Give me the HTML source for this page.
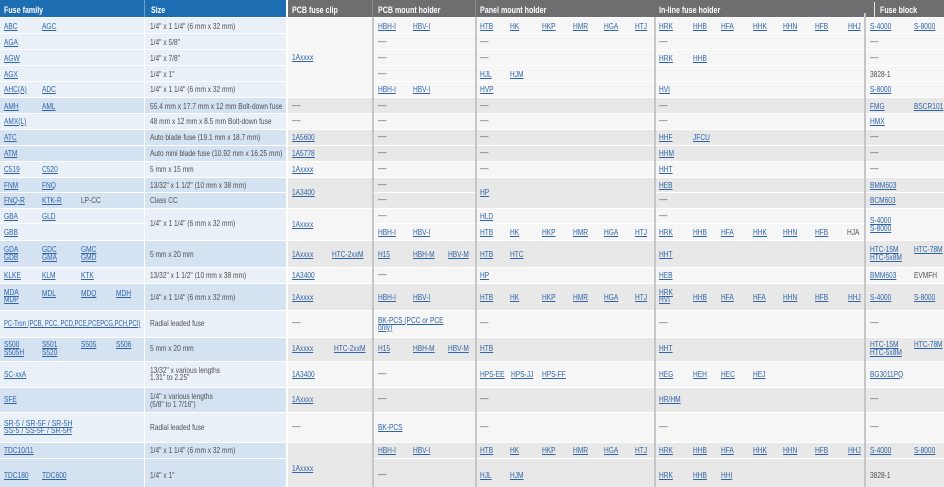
<!DOCTYPE html>
<html>
<head>
<meta charset="utf-8">
<style>
html,body{margin:0;padding:0}
body{width:944px;height:487px;overflow:hidden;position:relative;background:#fff;font-family:"Liberation Sans",Arial,sans-serif}
div{position:absolute}
.L{left:0;width:944px;background:linear-gradient(to right,#e9f0f8 286px,#fff 286px,#fff 288px,#f6f6f6 288px)}
.D{left:0;width:944px;background:linear-gradient(to right,#d4e2f2 286px,#fff 286px,#fff 288px,#e8e8e8 288px)}
.v{top:17px;height:470px;width:2px;background:#c6c6c6}
.t{position:absolute;font-size:8.5px;line-height:9px;white-space:nowrap;color:#505050;transform:scaleX(.775);transform-origin:0 0;font-style:normal}
.a{color:#2f64a6;text-decoration:underline}
.d{transform:none;color:#505050}
.h{font-weight:bold;color:#fff;font-size:9px;transform:scaleX(.79)}
</style>
</head>
<body>
<!-- header -->
<div style="left:0;top:0;width:286px;height:17px;background:#1d6db3"></div>
<div style="left:288px;top:0;width:656px;height:17px;background:#6d6e70"></div>
<div style="left:144px;top:0;width:1px;height:17px;background:rgba(255,255,255,.35)"></div>
<div style="left:372px;top:0;width:1px;height:17px;background:#8a8b8d"></div>
<div style="left:475px;top:0;width:1px;height:17px;background:#8a8b8d"></div>
<div style="left:874px;top:2px;width:1px;height:15px;background:#e6e6e6"></div>

<!-- row bands -->
<div class="L" style="top:18px;height:15px"></div>
<div class="L" style="top:34px;height:15px"></div>
<div class="L" style="top:50px;height:15px"></div>
<div class="L" style="top:66px;height:15px"></div>
<div class="L" style="top:82px;height:15px"></div>
<div class="D" style="top:98px;height:15px"></div>
<div class="L" style="top:114px;height:15px"></div>
<div class="D" style="top:130px;height:15px"></div>
<div class="D" style="top:146px;height:15px"></div>
<div class="L" style="top:162px;height:15px"></div>
<div class="D" style="top:178px;height:14px"></div>
<div class="D" style="top:193px;height:15px"></div>
<div class="L" style="top:209px;height:14px"></div>
<div class="L" style="top:224px;height:16px"></div>
<div class="D" style="top:241px;height:26px"></div>
<div class="L" style="top:268px;height:15px"></div>
<div class="D" style="top:284px;height:26px"></div>
<div class="L" style="top:311px;height:26px"></div>
<div class="D" style="top:338px;height:23px"></div>
<div class="L" style="top:362px;height:25px"></div>
<div class="D" style="top:388px;height:24px"></div>
<div class="L" style="top:413px;height:29px"></div>
<div class="D" style="top:443px;height:15px"></div>
<div class="D" style="top:459px;height:28px"></div>

<!-- rowspan patches -->
<div style="left:288px;top:18px;width:84px;height:79px;background:#f6f6f6"></div>
<div style="left:288px;top:178px;width:84px;height:30px;background:#e8e8e8"></div>
<div style="left:288px;top:209px;width:84px;height:31px;background:#f6f6f6"></div>
<div style="left:288px;top:443px;width:84px;height:44px;background:#e8e8e8"></div>
<div style="left:145px;top:209px;width:141px;height:31px;background:#e9f0f8"></div>
<div style="left:476px;top:178px;width:178px;height:30px;background:#e8e8e8"></div>
<div style="left:865px;top:209px;width:79px;height:31px;background:#f6f6f6"></div>

<!-- vertical dividers -->
<div style="left:144px;top:17px;width:1px;height:470px;background:#fff"></div>
<div class="v" style="left:372px"></div>
<div class="v" style="left:475px"></div>
<div class="v" style="left:654px"></div>
<div class="v" style="left:864px;top:13px;height:474px"></div>

<!-- header text -->
<i class="t h" style="left:3.5px;top:5.6px">Fuse family</i>
<i class="t h" style="left:150.5px;top:5.6px">Size</i>
<i class="t h" style="left:292px;top:5.6px">PCB fuse clip</i>
<i class="t h" style="left:378px;top:5.6px">PCB mount holder</i>
<i class="t h" style="left:480px;top:5.6px">Panel mount holder</i>
<i class="t h" style="left:659px;top:5.6px">In-line fuse holder</i>
<i class="t h" style="left:880px;top:5.6px">Fuse block</i>

<!-- Row 1 -->
<i class="t a" style="left:3.5px;top:21.6px">ABC</i>
<i class="t a" style="left:42px;top:21.6px">AGC</i>
<i class="t" style="left:150px;top:21.6px">1/4" x 1 1/4" (6 mm x 32 mm)</i>
<i class="t a" style="left:378px;top:21.6px">HBH-I</i>
<i class="t a" style="left:412.5px;top:21.6px">HBV-I</i>
<i class="t a" style="left:480px;top:21.6px">HTB</i>
<i class="t a" style="left:510px;top:21.6px">HK</i>
<i class="t a" style="left:541.5px;top:21.6px">HKP</i>
<i class="t a" style="left:573px;top:21.6px">HMR</i>
<i class="t a" style="left:604px;top:21.6px">HGA</i>
<i class="t a" style="left:635px;top:21.6px">HTJ</i>
<i class="t a" style="left:659px;top:21.6px">HRK</i>
<i class="t a" style="left:692.5px;top:21.6px">HHB</i>
<i class="t a" style="left:721px;top:21.6px">HFA</i>
<i class="t a" style="left:753px;top:21.6px">HHK</i>
<i class="t a" style="left:783px;top:21.6px">HHN</i>
<i class="t a" style="left:815px;top:21.6px">HFB</i>
<i class="t a" style="left:847.5px;top:21.6px">HHJ</i>
<i class="t a" style="left:870px;top:21.6px">S-4000</i>
<i class="t a" style="left:914px;top:21.6px">S-8000</i>
<i class="t a" style="left:292px;top:53.1px">1Axxxx</i>

<!-- Row 2 -->
<i class="t a" style="left:3.5px;top:37.6px">AGA</i>
<i class="t" style="left:150px;top:37.6px">1/4" x 5/8"</i>
<i class="t d" style="left:378px;top:36.6px">—</i>
<i class="t d" style="left:480px;top:36.6px">—</i>
<i class="t d" style="left:659px;top:36.6px">—</i>
<i class="t d" style="left:870px;top:36.6px">—</i>

<!-- Row 3 -->
<i class="t a" style="left:3.5px;top:53.6px">AGW</i>
<i class="t" style="left:150px;top:53.6px">1/4" x 7/8"</i>
<i class="t d" style="left:378px;top:52.6px">—</i>
<i class="t d" style="left:480px;top:52.6px">—</i>
<i class="t a" style="left:659px;top:53.6px">HRK</i>
<i class="t a" style="left:692.5px;top:53.6px">HHB</i>
<i class="t d" style="left:870px;top:52.6px">—</i>

<!-- Row 4 -->
<i class="t a" style="left:3.5px;top:69.6px">AGX</i>
<i class="t" style="left:150px;top:69.6px">1/4" x 1"</i>
<i class="t d" style="left:378px;top:68.6px">—</i>
<i class="t a" style="left:480px;top:69.6px">HJL</i>
<i class="t a" style="left:510px;top:69.6px">HJM</i>
<i class="t" style="left:870px;top:69.6px">3828-1</i>

<!-- Row 5 -->
<i class="t a" style="left:3.5px;top:85.1px">AHC(A)</i>
<i class="t a" style="left:42px;top:85.1px">ADC</i>
<i class="t" style="left:150px;top:85.1px">1/4" x 1 1/4" (6 mm x 32 mm)</i>
<i class="t a" style="left:378px;top:85.1px">HBH-I</i>
<i class="t a" style="left:412.5px;top:85.1px">HBV-I</i>
<i class="t a" style="left:480px;top:85.1px">HVP</i>
<i class="t a" style="left:659px;top:85.1px">HVI</i>
<i class="t a" style="left:870px;top:85.1px">S-8000</i>

<!-- Row 6 -->
<i class="t a" style="left:3.5px;top:101.6px">AMH</i>
<i class="t a" style="left:42px;top:101.6px">AML</i>
<i class="t" style="left:150px;top:101.6px;transform:scaleX(.785)">55.4 mm x 17.7 mm x 12 mm Bolt-down fuse</i>
<i class="t d" style="left:292px;top:100.6px">—</i>
<i class="t d" style="left:378px;top:100.6px">—</i>
<i class="t d" style="left:480px;top:100.6px">—</i>
<i class="t d" style="left:659px;top:100.6px">—</i>
<i class="t a" style="left:870px;top:101.6px">FMG</i>
<i class="t a" style="left:914px;top:101.6px">BSCR101</i>

<!-- Row 7 -->
<i class="t a" style="left:3.5px;top:117.1px">AMX(L)</i>
<i class="t" style="left:150px;top:117.1px">48 mm x 12 mm x 8.5 mm Bolt-down fuse</i>
<i class="t d" style="left:292px;top:116.1px">—</i>
<i class="t d" style="left:378px;top:116.1px">—</i>
<i class="t d" style="left:480px;top:116.1px">—</i>
<i class="t d" style="left:659px;top:116.1px">—</i>
<i class="t a" style="left:870px;top:117.1px">HMX</i>

<!-- Row 8 -->
<i class="t a" style="left:3.5px;top:133.1px">ATC</i>
<i class="t" style="left:150px;top:133.1px">Auto blade fuse (19.1 mm x 18.7 mm)</i>
<i class="t a" style="left:292px;top:133.1px">1A5600</i>
<i class="t d" style="left:378px;top:132.1px">—</i>
<i class="t d" style="left:480px;top:132.1px">—</i>
<i class="t a" style="left:659px;top:133.1px">HHF</i>
<i class="t a" style="left:692.5px;top:133.1px">JFCU</i>
<i class="t d" style="left:870px;top:132.1px">—</i>

<!-- Row 9 -->
<i class="t a" style="left:3.5px;top:149.1px">ATM</i>
<i class="t" style="left:150px;top:149.1px;transform:scaleX(.78)">Auto mini blade fuse (10.92 mm x 16.25 mm)</i>
<i class="t a" style="left:292px;top:149.1px">1A5778</i>
<i class="t d" style="left:378px;top:148.1px">—</i>
<i class="t d" style="left:480px;top:148.1px">—</i>
<i class="t a" style="left:659px;top:149.1px">HHM</i>
<i class="t d" style="left:870px;top:148.1px">—</i>

<!-- Row 10 -->
<i class="t a" style="left:3.5px;top:165.1px">C519</i>
<i class="t a" style="left:42px;top:165.1px">C520</i>
<i class="t" style="left:150px;top:165.1px">5 mm x 15 mm</i>
<i class="t a" style="left:292px;top:165.1px">1Axxxx</i>
<i class="t d" style="left:378px;top:164.1px">—</i>
<i class="t d" style="left:480px;top:164.1px">—</i>
<i class="t a" style="left:659px;top:165.1px">HHT</i>
<i class="t d" style="left:870px;top:164.1px">—</i>

<!-- Row 11 -->
<i class="t a" style="left:3.5px;top:180.6px">FNM</i>
<i class="t a" style="left:42px;top:180.6px">FNQ</i>
<i class="t" style="left:150px;top:180.6px">13/32" x 1 1/2" (10 mm x 38 mm)</i>
<i class="t d" style="left:378px;top:179.6px">—</i>
<i class="t a" style="left:659px;top:180.6px">HEB</i>
<i class="t a" style="left:870px;top:180.6px">BMM603</i>
<i class="t a" style="left:292px;top:188.1px">1A3400</i>
<i class="t a" style="left:480px;top:188.1px">HP</i>

<!-- Row 12 -->
<i class="t a" style="left:3.5px;top:196.1px">FNQ-R</i>
<i class="t a" style="left:42px;top:196.1px">KTK-R</i>
<i class="t" style="left:80.5px;top:196.1px">LP-CC</i>
<i class="t" style="left:150px;top:196.1px">Class CC</i>
<i class="t d" style="left:378px;top:195.1px">—</i>
<i class="t d" style="left:659px;top:195.1px">—</i>
<i class="t a" style="left:870px;top:196.1px">BCM603</i>

<!-- Row 13/14 -->
<i class="t a" style="left:3.5px;top:211.6px">GBA</i>
<i class="t a" style="left:42px;top:211.6px">GLD</i>
<i class="t d" style="left:378px;top:210.6px">—</i>
<i class="t a" style="left:480px;top:211.6px">HLD</i>
<i class="t d" style="left:659px;top:210.6px">—</i>
<i class="t" style="left:150px;top:219.4px">1/4" x 1 1/4" (6 mm x 32 mm)</i>
<i class="t a" style="left:292px;top:219.6px">1Axxxx</i>
<i class="t a" style="left:870px;top:216.4px">S-4000</i>
<i class="t a" style="left:870px;top:224.3px">S-8000</i>
<i class="t a" style="left:3.5px;top:227.6px">GBB</i>
<i class="t a" style="left:378px;top:227.6px">HBH-I</i>
<i class="t a" style="left:412.5px;top:227.6px">HBV-I</i>
<i class="t a" style="left:480px;top:227.6px">HTB</i>
<i class="t a" style="left:510px;top:227.6px">HK</i>
<i class="t a" style="left:541.5px;top:227.6px">HKP</i>
<i class="t a" style="left:573px;top:227.6px">HMR</i>
<i class="t a" style="left:604px;top:227.6px">HGA</i>
<i class="t a" style="left:635px;top:227.6px">HTJ</i>
<i class="t a" style="left:659px;top:227.6px">HRK</i>
<i class="t a" style="left:692.5px;top:227.6px">HHB</i>
<i class="t a" style="left:721px;top:227.6px">HFA</i>
<i class="t a" style="left:753px;top:227.6px">HHK</i>
<i class="t a" style="left:783px;top:227.6px">HHN</i>
<i class="t a" style="left:815px;top:227.6px">HFB</i>
<i class="t" style="left:846.5px;top:227.6px">HJA</i>

<!-- Row 15 -->
<i class="t a" style="left:3.5px;top:244.6px">GDA</i>
<i class="t a" style="left:3.5px;top:252.6px">GDB</i>
<i class="t a" style="left:42px;top:244.6px">GDC</i>
<i class="t a" style="left:42px;top:252.6px">GMA</i>
<i class="t a" style="left:80.5px;top:244.6px">GMC</i>
<i class="t a" style="left:80.5px;top:252.6px">GMD</i>
<i class="t" style="left:150px;top:250.1px">5 mm x 20 mm</i>
<i class="t a" style="left:292px;top:250.1px">1Axxxx</i>
<i class="t a" style="left:332px;top:250.1px">HTC-2xxM</i>
<i class="t a" style="left:378px;top:250.1px">H15</i>
<i class="t a" style="left:412.5px;top:250.1px">HBH-M</i>
<i class="t a" style="left:447.5px;top:250.1px">HBV-M</i>
<i class="t a" style="left:480px;top:250.1px">HTB</i>
<i class="t a" style="left:510px;top:250.1px">HTC</i>
<i class="t a" style="left:659px;top:250.1px">HHT</i>
<i class="t a" style="left:870px;top:244.6px">HTC-15M</i>
<i class="t a" style="left:870px;top:252.6px">HTC-5x8M</i>
<i class="t a" style="left:914px;top:244.6px">HTC-78M</i>

<!-- Row 16 -->
<i class="t a" style="left:3.5px;top:270.6px">KLKE</i>
<i class="t a" style="left:42px;top:270.6px">KLM</i>
<i class="t a" style="left:80.5px;top:270.6px">KTK</i>
<i class="t" style="left:150px;top:270.6px">13/32" x 1 1/2" (10 mm x 38 mm)</i>
<i class="t a" style="left:292px;top:270.6px">1A3400</i>
<i class="t d" style="left:378px;top:269.6px">—</i>
<i class="t a" style="left:480px;top:270.6px">HP</i>
<i class="t a" style="left:659px;top:270.6px">HEB</i>
<i class="t a" style="left:870px;top:270.6px">BMM603</i>
<i class="t" style="left:914px;top:270.6px">EVMFH</i>

<!-- Row 17 -->
<i class="t a" style="left:3.5px;top:288.4px">MDA</i>
<i class="t a" style="left:3.5px;top:295.4px">MDP</i>
<i class="t a" style="left:42px;top:289.4px">MDL</i>
<i class="t a" style="left:80.5px;top:289.4px">MDQ</i>
<i class="t a" style="left:116px;top:289.4px">MDH</i>
<i class="t" style="left:150px;top:292.6px">1/4" x 1 1/4" (6 mm x 32 mm)</i>
<i class="t a" style="left:292px;top:292.6px">1Axxxx</i>
<i class="t a" style="left:378px;top:292.6px">HBH-I</i>
<i class="t a" style="left:412.5px;top:292.6px">HBV-I</i>
<i class="t a" style="left:480px;top:292.6px">HTB</i>
<i class="t a" style="left:510px;top:292.6px">HK</i>
<i class="t a" style="left:541.5px;top:292.6px">HKP</i>
<i class="t a" style="left:573px;top:292.6px">HMR</i>
<i class="t a" style="left:604px;top:292.6px">HGA</i>
<i class="t a" style="left:635px;top:292.6px">HTJ</i>
<i class="t a" style="left:659px;top:288.4px">HRK</i>
<i class="t a" style="left:659px;top:295.4px">HVI</i>
<i class="t a" style="left:692.5px;top:292.6px">HHB</i>
<i class="t a" style="left:721px;top:292.6px">HFA</i>
<i class="t a" style="left:753px;top:292.6px">HFA</i>
<i class="t a" style="left:783px;top:292.6px">HHN</i>
<i class="t a" style="left:815px;top:292.6px">HFB</i>
<i class="t a" style="left:847.5px;top:292.6px">HHJ</i>
<i class="t a" style="left:870px;top:292.6px">S-4000</i>
<i class="t a" style="left:914px;top:292.6px">S-8000</i>

<!-- Row 18 -->
<i class="t a" style="left:3.5px;top:319.1px;transform:scaleX(.69)">PC-Tron (PCB, PCC, PCD,PCE,PCEPCG,PCH,PCI)</i>
<i class="t" style="left:150px;top:319.1px">Radial leaded fuse</i>
<i class="t d" style="left:292px;top:318.1px">—</i>
<i class="t a" style="left:378px;top:316.1px">BK-PCS (PCC or PCE</i>
<i class="t a" style="left:378px;top:323.1px">only)</i>
<i class="t d" style="left:480px;top:318.1px">—</i>
<i class="t d" style="left:659px;top:318.1px">—</i>
<i class="t d" style="left:870px;top:318.1px">—</i>

<!-- Row 19 -->
<i class="t a" style="left:3.5px;top:339.6px">S500</i>
<i class="t a" style="left:3.5px;top:347.6px">S505H</i>
<i class="t a" style="left:42px;top:339.6px">S501</i>
<i class="t a" style="left:42px;top:347.6px">S520</i>
<i class="t a" style="left:80.5px;top:339.6px">S505</i>
<i class="t a" style="left:116px;top:339.6px">S506</i>
<i class="t" style="left:150px;top:344.1px">5 mm x 20 mm</i>
<i class="t a" style="left:292px;top:344.1px">1Axxxx</i>
<i class="t a" style="left:334px;top:344.1px">HTC-2xxM</i>
<i class="t a" style="left:378px;top:344.1px">H15</i>
<i class="t a" style="left:412.5px;top:344.1px">HBH-M</i>
<i class="t a" style="left:447.5px;top:344.1px">HBV-M</i>
<i class="t a" style="left:480px;top:344.1px">HTB</i>
<i class="t a" style="left:659px;top:344.1px">HHT</i>
<i class="t a" style="left:870px;top:339.6px">HTC-15M</i>
<i class="t a" style="left:870px;top:347.6px">HTC-5x8M</i>
<i class="t a" style="left:914px;top:339.6px">HTC-78M</i>

<!-- Row 20 -->
<i class="t a" style="left:3.5px;top:369.6px">SC-xxA</i>
<i class="t" style="left:150px;top:366.1px">13/32" x various lengths</i>
<i class="t" style="left:150px;top:373.1px">1.31" to 2.25"</i>
<i class="t a" style="left:292px;top:369.6px">1A3400</i>
<i class="t d" style="left:378px;top:368.6px">—</i>
<i class="t a" style="left:480px;top:369.6px">HPS-EE</i>
<i class="t a" style="left:510.5px;top:369.6px">HPS-JJ</i>
<i class="t a" style="left:541.5px;top:369.6px">HPS-FF</i>
<i class="t a" style="left:659px;top:369.6px">HEG</i>
<i class="t a" style="left:692.5px;top:369.6px">HEH</i>
<i class="t a" style="left:721px;top:369.6px">HEC</i>
<i class="t a" style="left:753px;top:369.6px">HEJ</i>
<i class="t a" style="left:870px;top:369.6px">BG3011PQ</i>

<!-- Row 21 -->
<i class="t a" style="left:3.5px;top:395.1px">SFE</i>
<i class="t" style="left:150px;top:391.6px">1/4" x various lengths</i>
<i class="t" style="left:150px;top:399.6px">(5/8" to 1 7/16")</i>
<i class="t a" style="left:292px;top:395.1px">1Axxxx</i>
<i class="t d" style="left:378px;top:394.1px">—</i>
<i class="t d" style="left:480px;top:394.1px">—</i>
<i class="t a" style="left:659px;top:395.1px">HR/HM</i>
<i class="t d" style="left:870px;top:394.1px">—</i>

<!-- Row 22 -->
<i class="t a" style="left:3.5px;top:418.6px;transform:scaleX(.82)">SR-5 / SR-5F / SR-5H</i>
<i class="t a" style="left:3.5px;top:426.1px;transform:scaleX(.82)">SS-5 / SS-5F / SR-5H</i>
<i class="t" style="left:150px;top:422.6px">Radial leaded fuse</i>
<i class="t d" style="left:292px;top:421.6px">—</i>
<i class="t a" style="left:378px;top:422.6px">BK-PCS</i>
<i class="t d" style="left:480px;top:421.6px">—</i>
<i class="t d" style="left:659px;top:421.6px">—</i>
<i class="t d" style="left:870px;top:421.6px">—</i>

<!-- Row 23 -->
<i class="t a" style="left:3.5px;top:445.9px">TDC10/11</i>
<i class="t" style="left:150px;top:445.9px">1/4" x 1 1/4" (6 mm x 32 mm)</i>
<i class="t a" style="left:378px;top:445.9px">HBH-I</i>
<i class="t a" style="left:412.5px;top:445.9px">HBV-I</i>
<i class="t a" style="left:480px;top:445.9px">HTB</i>
<i class="t a" style="left:510px;top:445.9px">HK</i>
<i class="t a" style="left:541.5px;top:445.9px">HKP</i>
<i class="t a" style="left:573px;top:445.9px">HMR</i>
<i class="t a" style="left:604px;top:445.9px">HGA</i>
<i class="t a" style="left:635px;top:445.9px">HTJ</i>
<i class="t a" style="left:659px;top:445.9px">HRK</i>
<i class="t a" style="left:692.5px;top:445.9px">HHB</i>
<i class="t a" style="left:721px;top:445.9px">HFA</i>
<i class="t a" style="left:753px;top:445.9px">HHK</i>
<i class="t a" style="left:783px;top:445.9px">HHN</i>
<i class="t a" style="left:815px;top:445.9px">HFB</i>
<i class="t a" style="left:847.5px;top:445.9px">HHJ</i>
<i class="t a" style="left:870px;top:445.9px">S-4000</i>
<i class="t a" style="left:914px;top:445.9px">S-8000</i>
<i class="t a" style="left:292px;top:463.6px">1Axxxx</i>

<!-- Row 24 -->
<i class="t a" style="left:3.5px;top:470.6px">TDC180</i>
<i class="t a" style="left:42px;top:470.6px">TDC600</i>
<i class="t" style="left:150px;top:470.6px">1/4" x 1"</i>
<i class="t d" style="left:378px;top:469.6px">—</i>
<i class="t a" style="left:480px;top:470.6px">HJL</i>
<i class="t a" style="left:510px;top:470.6px">HJM</i>
<i class="t a" style="left:659px;top:470.6px">HRK</i>
<i class="t a" style="left:692.5px;top:470.6px">HHB</i>
<i class="t a" style="left:721px;top:470.6px">HHI</i>
<i class="t" style="left:870px;top:470.6px">3828-1</i>
</body>
</html>
